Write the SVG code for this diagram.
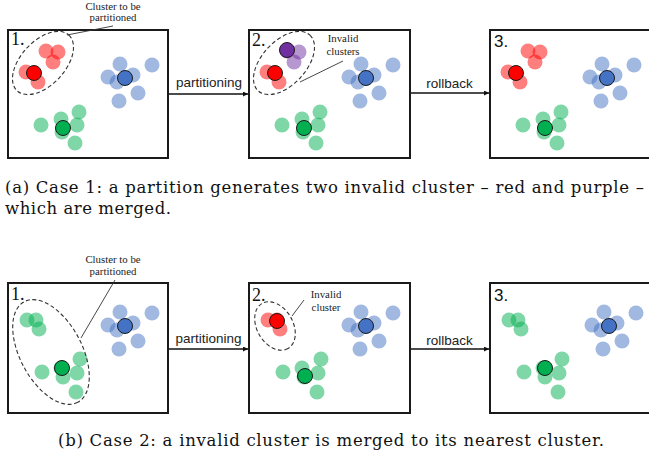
<svg xmlns="http://www.w3.org/2000/svg" width="649" height="457" viewBox="0 0 649 457">
<defs>
<style>
.box{fill:#fff;stroke:#1a1a1a;stroke-width:2}
.lr{fill:#ff0000;fill-opacity:.5}
.lb{fill:#4472c4;fill-opacity:.5}
.lg{fill:#00b050;fill-opacity:.5}
.lp{fill:#7030a0;fill-opacity:.5}
.dr{fill:#ff0000;stroke:#1a1a1a;stroke-width:1}
.db{fill:#4472c4;stroke:#1a1a1a;stroke-width:1}
.dg{fill:#00b050;stroke:#1a1a1a;stroke-width:1}
.dp{fill:#7030a0;stroke:#1a1a1a;stroke-width:1}
.ell{fill:none;stroke:#333;stroke-width:1.1;stroke-dasharray:4 2.5}
.lead{stroke:#333;stroke-width:0.9;fill:none}
.arr{stroke:#111;stroke-width:1.4;fill:none;marker-end:url(#ah)}
.num{font-family:"Liberation Serif",serif;font-size:18px;fill:#111}
.nums{font-family:"Liberation Sans",sans-serif;font-size:17px;fill:#111}
.lbl{font-family:"Liberation Serif",serif;font-size:10.8px;fill:#222;text-anchor:middle}
.act{font-family:"Liberation Sans",sans-serif;font-size:13.5px;fill:#222;text-anchor:middle}
.cap{font-family:"DejaVu Serif",serif;font-size:16.5px;fill:#111}
</style>
<marker id="ah" viewBox="0 0 6 6" refX="6" refY="3" markerWidth="5" markerHeight="5" orient="auto" markerUnits="userSpaceOnUse">
<path d="M0,0 L6,3 L0,6 z" fill="#111"/>
</marker>
<g id="blueTop">
<circle class="lb" cx="120" cy="64" r="7.5"/><circle class="lb" cx="152" cy="65" r="7.5"/>
<circle class="lb" cx="108" cy="77" r="7.5"/><circle class="lb" cx="117" cy="82" r="7.5"/>
<circle class="lb" cx="133" cy="75" r="7.5"/><circle class="lb" cx="138" cy="93" r="7.5"/>
<circle class="lb" cx="119" cy="101" r="7.5"/><circle class="db" cx="125" cy="78" r="7.5"/>
</g>
<g id="greenTop">
<circle class="lg" cx="41" cy="125" r="7.5"/><circle class="lg" cx="61" cy="119" r="7.5"/>
<circle class="lg" cx="79" cy="112" r="7.5"/><circle class="lg" cx="77" cy="125" r="7.5"/>
<circle class="lg" cx="75" cy="143" r="7.5"/><circle class="lg" cx="62" cy="132" r="7.5"/>
<circle class="dg" cx="63" cy="128" r="7.5"/>
</g>
<g id="greenLow">
<circle class="lg" cx="42" cy="372" r="7.5"/><circle class="lg" cx="61" cy="368" r="7.5"/>
<circle class="lg" cx="63" cy="377" r="7.5"/><circle class="lg" cx="80" cy="359" r="7.5"/>
<circle class="lg" cx="77" cy="373" r="7.5"/><circle class="lg" cx="76" cy="392" r="7.5"/>
</g>
</defs>
<rect width="649" height="457" fill="#fff"/>

<g id="connectors">
<line class="arr" x1="169" y1="94" x2="248" y2="94"/>
<line class="arr" x1="411" y1="93" x2="489" y2="93"/>
<line class="arr" x1="169" y1="349" x2="248" y2="349"/>
<line class="arr" x1="411" y1="349" x2="489" y2="349"/>
<text class="act" x="209" y="87">partitioning</text>
<text class="act" x="449.5" y="88">rollback</text>
<text class="act" x="208.5" y="343">partitioning</text>
<text class="act" x="449.5" y="345">rollback</text>
</g>

<!-- Case 1 -->
<g id="a1">
<rect class="box" x="8" y="30" width="160" height="128"/>
<text class="num" x="11" y="45">1.</text>
<circle class="lr" cx="46" cy="51" r="7.5"/><circle class="lr" cx="58" cy="52" r="7.5"/>
<circle class="lr" cx="53" cy="62" r="7.5"/><circle class="lr" cx="26" cy="72" r="7.5"/>
<circle class="lr" cx="38" cy="82" r="7.5"/><circle class="dr" cx="34" cy="73" r="7.5"/>
<use href="#blueTop"/><use href="#greenTop"/>
<ellipse class="ell" cx="43" cy="63" rx="38" ry="22" transform="rotate(-47 43 63)"/>
<line class="lead" x1="67" y1="35" x2="113" y2="26"/>
<text class="lbl" x="113" y="10">Cluster to be</text>
<text class="lbl" x="113" y="21">partitioned</text>
</g>

<g id="a2">
<rect class="box" x="249" y="30" width="161" height="128"/>
<text class="num" x="252" y="46">2.</text>
<g transform="translate(241 0)">
<circle class="lp" cx="46" cy="51" r="7.5"/><circle class="lp" cx="58" cy="52" r="7.5"/>
<circle class="lp" cx="53" cy="62" r="7.5"/><circle class="lr" cx="26" cy="72" r="7.5"/>
<circle class="lr" cx="38" cy="82" r="7.5"/><circle class="dr" cx="34" cy="73" r="7.5"/>
<circle class="dp" cx="46" cy="50" r="7.5"/>
<use href="#blueTop"/><use href="#greenTop"/>
<ellipse class="ell" cx="43" cy="63" rx="38" ry="22" transform="rotate(-47 43 63)"/>
</g>
<line class="lead" x1="300" y1="82" x2="343" y2="61"/>
<text class="lbl" x="343" y="42">Invalid</text>
<text class="lbl" x="343" y="55">clusters</text>
</g>

<g id="a3">
<rect class="box" x="490" y="30" width="162" height="128"/>
<text class="nums" x="494" y="47">3.</text>
<g transform="translate(482 0)">
<circle class="lr" cx="46" cy="51" r="7.5"/><circle class="lr" cx="58" cy="52" r="7.5"/>
<circle class="lr" cx="53" cy="62" r="7.5"/><circle class="lr" cx="26" cy="72" r="7.5"/>
<circle class="lr" cx="38" cy="82" r="7.5"/><circle class="dr" cx="34" cy="73" r="7.5"/>
<use href="#blueTop"/><use href="#greenTop"/>
</g>
</g>

<text class="cap" x="5" y="193" textLength="639" lengthAdjust="spacing">(a) Case 1: a partition generates two invalid cluster – red and purple –</text>
<text class="cap" x="5" y="214" textLength="166" lengthAdjust="spacing">which are merged.</text>

<!-- Case 2 -->
<g id="b1">
<rect class="box" x="8" y="283" width="160" height="130"/>
<text class="num" x="11" y="300">1.</text>
<circle class="lg" cx="27" cy="320" r="7.5"/><circle class="lg" cx="36" cy="320" r="7.5"/>
<circle class="lg" cx="39" cy="329" r="7.5"/>
<use href="#greenLow"/>
<circle class="dg" cx="62" cy="368" r="7.5"/>
<use href="#blueTop" transform="translate(0 248)"/>
<ellipse class="ell" cx="51" cy="352" rx="57" ry="31" transform="rotate(62 51 352)"/>
<line class="lead" x1="81" y1="338" x2="115" y2="280"/>
<text class="lbl" x="113" y="263">Cluster to be</text>
<text class="lbl" x="113" y="275">partitioned</text>
</g>

<g id="b2">
<rect class="box" x="249" y="283" width="161" height="130"/>
<text class="num" x="252" y="301">2.</text>
<g transform="translate(241 0)">
<circle class="lr" cx="27" cy="320" r="7.5"/><circle class="lr" cx="36" cy="320" r="7.5"/>
<circle class="lr" cx="39" cy="329" r="7.5"/><circle class="dr" cx="36" cy="321" r="7.5"/>
<use href="#greenLow"/>
<circle class="dg" cx="64" cy="376" r="7.5"/>
<use href="#blueTop" transform="translate(0 248)"/>
</g>
<ellipse class="ell" cx="275" cy="326" rx="26" ry="18" transform="rotate(60 275 326)"/>
<line class="lead" x1="292" y1="316" x2="304" y2="300"/>
<text class="lbl" x="326" y="298">Invalid</text>
<text class="lbl" x="326" y="311">cluster</text>
</g>

<g id="b3">
<rect class="box" x="490" y="283" width="162" height="130"/>
<text class="nums" x="494" y="301">3.</text>
<g transform="translate(482 0)">
<circle class="lg" cx="27" cy="320" r="7.5"/><circle class="lg" cx="36" cy="320" r="7.5"/>
<circle class="lg" cx="39" cy="329" r="7.5"/>
<use href="#greenLow"/>
<circle class="dg" cx="63" cy="368" r="7.5"/>
<use href="#blueTop" transform="translate(2 248)"/>
</g>
</g>

<text class="cap" x="58" y="446" textLength="546" lengthAdjust="spacing">(b) Case 2: a invalid cluster is merged to its nearest cluster.</text>
</svg>
